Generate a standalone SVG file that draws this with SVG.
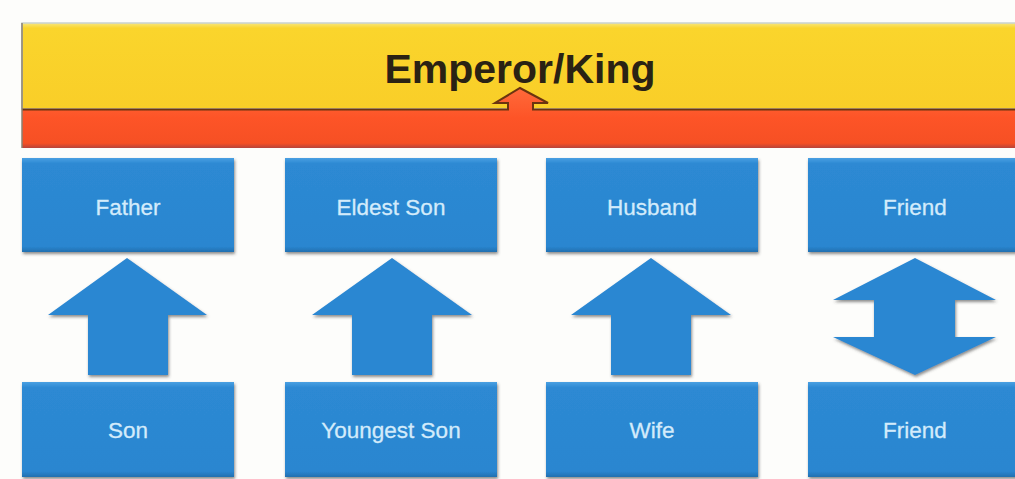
<svg xmlns="http://www.w3.org/2000/svg" width="1015" height="479" viewBox="0 0 1015 479">
  <defs>
    <style>
      .box { fill: url(#blueGrad); filter: url(#shadow); }
      .lbl { font-family: "Liberation Sans", Arial, sans-serif; font-size: 22.5px; fill: #d3ebfb; stroke: #d3ebfb; stroke-width: 0.3; text-anchor: middle; }
      .arrow { fill: #2b87d2; filter: url(#shadow); }
      .title { font-family: "Liberation Sans", Arial, sans-serif; font-size: 41px; font-weight: bold; fill: #2a2214; text-anchor: middle; }
    </style>
    <linearGradient id="blueGrad" x1="0" y1="0" x2="0" y2="1">
      <stop offset="0" stop-color="#4aa0e2"/>
      <stop offset="0.06" stop-color="#2d89d3"/>
      <stop offset="0.94" stop-color="#2a86d0"/>
      <stop offset="1" stop-color="#2270b0"/>
    </linearGradient>
    <linearGradient id="yellowGrad" x1="0" y1="0" x2="0" y2="1">
      <stop offset="0" stop-color="#f6e680"/>
      <stop offset="0.06" stop-color="#fad52c"/>
      <stop offset="1" stop-color="#f9ce28"/>
    </linearGradient>
    <linearGradient id="orangeGrad" x1="0" y1="0" x2="0" y2="1">
      <stop offset="0" stop-color="#ff6a3a"/>
      <stop offset="0.5" stop-color="#fd5427"/>
      <stop offset="0.92" stop-color="#f65024"/>
      <stop offset="1" stop-color="#b8443a"/>
    </linearGradient>
    <filter id="shadow" x="-10%" y="-10%" width="120%" height="130%">
      <feDropShadow dx="1" dy="2" stdDeviation="1.5" flood-color="#404040" flood-opacity="0.6"/>
    </filter>
  </defs>

  <rect width="1015" height="479" fill="#fdfdfb"/>

  <g id="emperor">
    <rect x="22" y="23" width="1000" height="86" fill="url(#yellowGrad)" stroke="#c9d2cf" stroke-width="1.5"/>
    <path d="M22,110 H508 V103 H495 L520,88 L548,103 H533 V110 H1015 V148 H22 Z" fill="url(#orangeGrad)"/>
    <polyline points="22,109.5 508,109.5 508,103 495,103 520,88 548,103 533,103 533,109.5 1015,109.5" fill="none" stroke="#6b3410" stroke-width="2"/>
    <line x1="22" y1="23" x2="22" y2="148" stroke="#8a8070" stroke-width="1.5"/>
    <text class="title" x="520" y="83">Emperor/King</text>
  </g>

  <g id="father"><rect class="box" x="22" y="158" width="212" height="94"/><text class="lbl" x="128" y="215">Father</text></g>
  <g id="eldest-son"><rect class="box" x="285" y="158" width="212" height="94"/><text class="lbl" x="391" y="215">Eldest Son</text></g>
  <g id="husband"><rect class="box" x="546" y="158" width="212" height="94"/><text class="lbl" x="652" y="215">Husband</text></g>
  <g id="friend-top"><rect class="box" x="808" y="158" width="220" height="94"/><text class="lbl" x="915" y="215">Friend</text></g>

  <g id="son"><rect class="box" x="22" y="382" width="212" height="95"/><text class="lbl" x="128" y="438">Son</text></g>
  <g id="youngest-son"><rect class="box" x="285" y="382" width="212" height="95"/><text class="lbl" x="391" y="438">Youngest Son</text></g>
  <g id="wife"><rect class="box" x="546" y="382" width="212" height="95"/><text class="lbl" x="652" y="438">Wife</text></g>
  <g id="friend-bottom"><rect class="box" x="808" y="382" width="220" height="95"/><text class="lbl" x="915" y="438">Friend</text></g>

  <g id="connectors">
    <polygon class="arrow" points="127,258 207,315 168,315 168,375 88,375 88,315 48,315"/>
    <polygon class="arrow" points="392,258 472,315 432,315 432,375 352,375 352,315 312,315"/>
    <polygon class="arrow" points="651,258 731,315 691,315 691,375 611,375 611,315 571,315"/>
    <polygon class="arrow" points="915,258 996,300 955,300 955,337 996,337 915,375 833,337 874,337 874,300 833,300"/>
  </g>
</svg>
